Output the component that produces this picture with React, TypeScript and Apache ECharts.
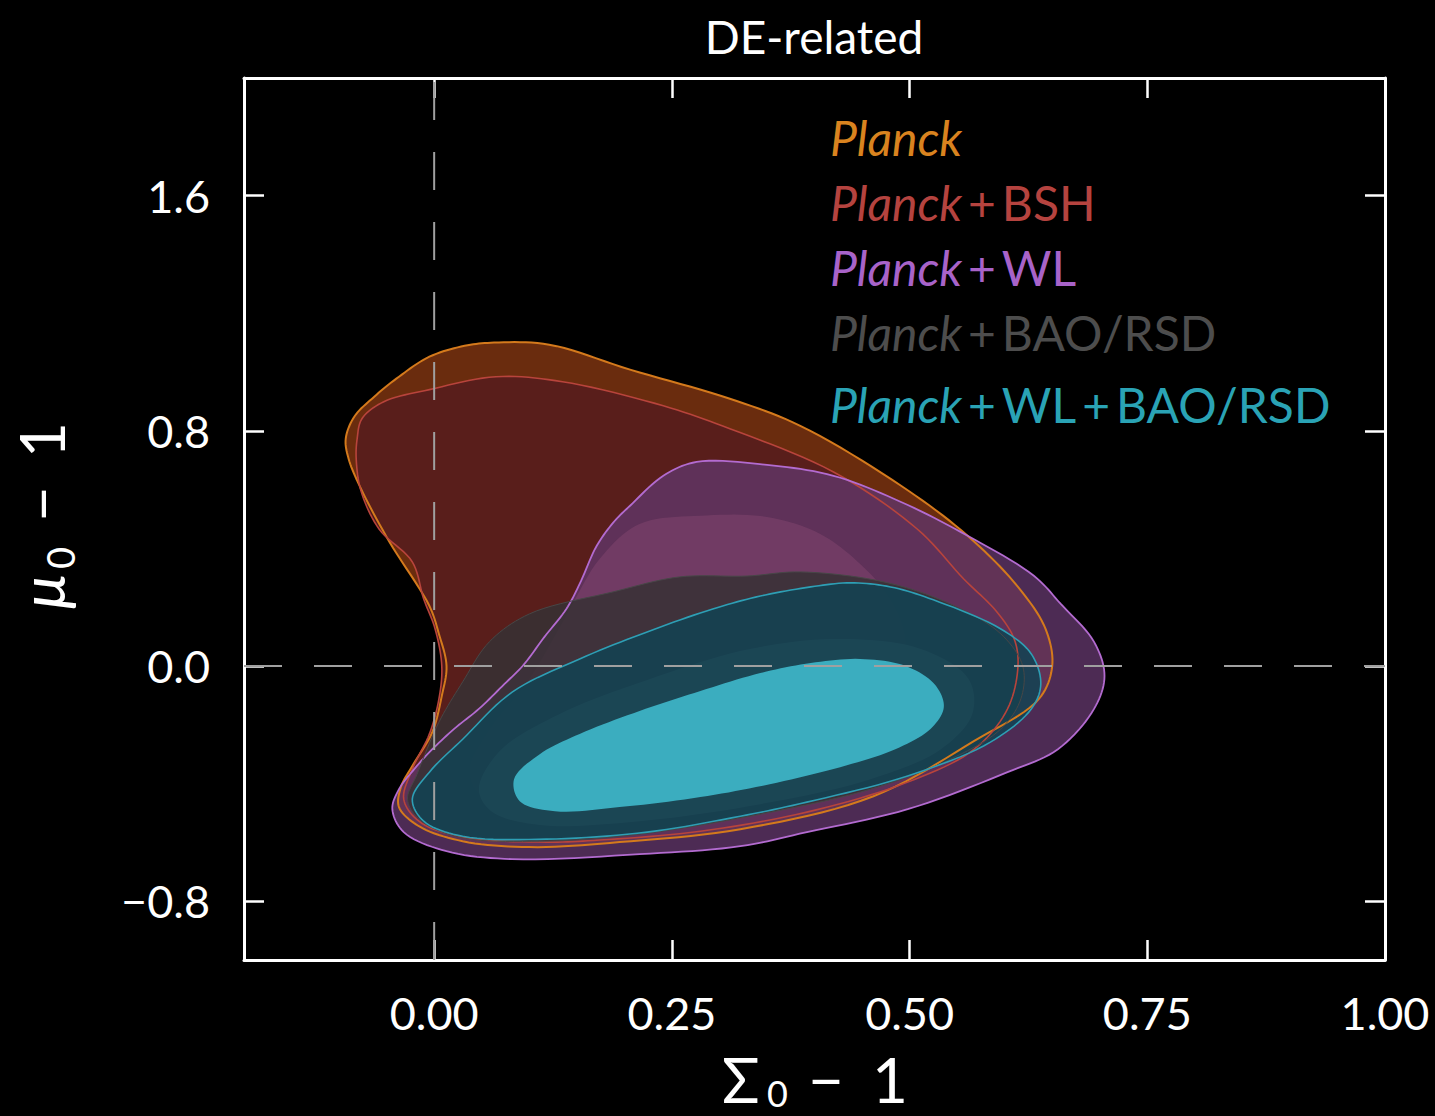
import React, { useEffect, useRef } from "react";
import * as echarts from "echarts";

type Pt = [number, number];

// Axis ticks
const xTicks = [0, 0.25, 0.5, 0.75, 1.0];
const yTicks = [-0.8, 0, 0.8, 1.6];

// Contour outlines in (Σ0−1, μ0−1)
const planckOuter: Pt[] = [
  [0.063, 1.1], [0.121, 1.093], [0.206, 1.008], [0.311, 0.909], [0.385, 0.817],
  [0.491, 0.613], [0.561, 0.443], [0.614, 0.269], [0.643, 0.126], [0.65, 0.0],
  [0.636, -0.112], [0.568, -0.255], [0.462, -0.443], [0.322, -0.555], [0.195, -0.599],
  [0.1, -0.616], [0.03, -0.596], [-0.016, -0.545], [-0.037, -0.48], [-0.035, -0.412],
  [-0.023, -0.34], [-0.002, -0.225], [0.008, -0.102], [0.013, 0.0], [0.005, 0.109],
  [-0.005, 0.204], [-0.047, 0.422], [-0.077, 0.603], [-0.09, 0.705], [-0.093, 0.773],
  [-0.084, 0.848], [-0.063, 0.916], [-0.037, 0.984], [-0.005, 1.052], [0.032, 1.089],
];

const bshOuter: Pt[] = [
  [0.065, 0.984], [0.135, 0.967], [0.241, 0.885], [0.311, 0.807], [0.42, 0.66],
  [0.508, 0.466], [0.557, 0.296], [0.591, 0.187], [0.61, 0.092], [0.614, 0.0],
  [0.603, -0.146], [0.568, -0.283], [0.498, -0.395], [0.392, -0.497], [0.28, -0.562],
  [0.174, -0.592], [0.118, -0.599], [0.03, -0.582], [-0.016, -0.528], [-0.032, -0.453],
  [-0.023, -0.351], [-0.005, -0.231], [0.005, -0.112], [0.008, 0.0], [0.001, 0.126],
  [-0.011, 0.228], [-0.023, 0.354], [-0.058, 0.466], [-0.077, 0.596], [-0.082, 0.705],
  [-0.081, 0.773], [-0.076, 0.841], [-0.053, 0.899], [-0.005, 0.94],
];

const wlOuter: Pt[] = [
  [0.276, 0.694], [0.35, 0.684], [0.42, 0.647], [0.491, 0.558], [0.561, 0.443],
  [0.631, 0.306], [0.659, 0.211], [0.694, 0.082], [0.705, -0.034], [0.694, -0.146],
  [0.656, -0.283], [0.603, -0.361], [0.498, -0.487], [0.392, -0.565], [0.322, -0.613],
  [0.216, -0.64], [0.082, -0.657], [0.013, -0.63], [-0.032, -0.565], [-0.044, -0.487],
  [-0.037, -0.419], [-0.021, -0.351], [-0.005, -0.293], [0.021, -0.214], [0.047, -0.146],
  [0.074, -0.061], [0.093, 0.0], [0.116, 0.099], [0.139, 0.194], [0.153, 0.279],
  [0.171, 0.409], [0.19, 0.494], [0.206, 0.545], [0.241, 0.647],
];

const wlInner: Pt[] = [
  [0.174, 0.364], [0.216, 0.483], [0.28, 0.511], [0.35, 0.507], [0.406, 0.449],
  [0.448, 0.347], [0.48, 0.228], [0.496, 0.092], [0.491, -0.044], [0.459, -0.163],
  [0.385, -0.283], [0.28, -0.385], [0.174, -0.453], [0.09, -0.47], [0.047, -0.436],
  [0.037, -0.351], [0.058, -0.214], [0.1, -0.044], [0.137, 0.16],
];

const baoOuter: Pt[] = [
  [0.258, 0.303], [0.329, 0.306], [0.385, 0.32], [0.473, 0.286], [0.543, 0.211],
  [0.596, 0.109], [0.619, 0.0], [0.617, -0.112], [0.596, -0.214], [0.543, -0.317],
  [0.459, -0.419], [0.343, -0.504], [0.216, -0.572], [0.111, -0.596], [0.026, -0.582],
  [-0.016, -0.521], [-0.028, -0.453], [-0.018, -0.368], [0.005, -0.191], [0.03, -0.054],
  [0.058, 0.082], [0.1, 0.177], [0.188, 0.252],
];

const baoInner: Pt[] = [
  [0.047, -0.419], [0.069, -0.289], [0.132, -0.163], [0.227, -0.044], [0.332, 0.058],
  [0.427, 0.092], [0.512, 0.058], [0.562, -0.044], [0.566, -0.163], [0.533, -0.283],
  [0.459, -0.385], [0.343, -0.47], [0.216, -0.528], [0.111, -0.541], [0.06, -0.494],
];

const comboOuter: Pt[] = [
  [-0.023, -0.453], [-0.005, -0.361], [0.03, -0.249], [0.082, -0.089], [0.153, 0.024],
  [0.224, 0.116], [0.293, 0.194], [0.343, 0.238], [0.396, 0.269], [0.438, 0.283],
  [0.48, 0.269], [0.525, 0.225], [0.596, 0.126], [0.628, 0.041], [0.638, -0.061],
  [0.628, -0.146], [0.585, -0.259], [0.498, -0.374], [0.392, -0.463], [0.322, -0.511],
  [0.224, -0.565], [0.118, -0.589], [0.03, -0.579], [-0.011, -0.528],
];

const comboInner: Pt[] = [
  [0.084, -0.385], [0.111, -0.3], [0.153, -0.231], [0.216, -0.153], [0.28, -0.085],
  [0.343, -0.024], [0.396, 0.01], [0.448, 0.024], [0.496, 0.0], [0.527, -0.065],
  [0.536, -0.14], [0.522, -0.214], [0.485, -0.283], [0.427, -0.344], [0.353, -0.402],
  [0.28, -0.446], [0.195, -0.48], [0.127, -0.494], [0.09, -0.46],
];

const legendLabels = ["+BSH", "+WL", "+BAO/RSD", "+WL+BAO/RSD"];

const FONT = "Lato, 'DejaVu Sans', sans-serif";

// Closed centripetal Catmull-Rom through the given screen points
function closedSpline(pts: number[][], seg = 10): number[][] {
  const n = pts.length;
  const out: number[][] = [];
  const knot = (a: number[], b: number[]) =>
    Math.max(Math.sqrt(Math.hypot(b[0] - a[0], b[1] - a[1])), 1e-4);
  const lerp = (a: number[], b: number[], ta: number, tb: number, t: number) => {
    const u = (t - ta) / (tb - ta);
    return [a[0] + (b[0] - a[0]) * u, a[1] + (b[1] - a[1]) * u];
  };
  for (let i = 0; i < n; i++) {
    const p0 = pts[(i - 1 + n) % n];
    const p1 = pts[i];
    const p2 = pts[(i + 1) % n];
    const p3 = pts[(i + 2) % n];
    const t0 = 0;
    const t1 = t0 + knot(p0, p1);
    const t2 = t1 + knot(p1, p2);
    const t3 = t2 + knot(p2, p3);
    for (let k = 0; k < seg; k++) {
      const t = t1 + ((t2 - t1) * k) / seg;
      const a1 = lerp(p0, p1, t0, t1, t);
      const a2 = lerp(p1, p2, t1, t2, t);
      const a3 = lerp(p2, p3, t2, t3, t);
      const b1 = lerp(a1, a2, t0, t2, t);
      const b2 = lerp(a2, a3, t1, t3, t);
      out.push(lerp(b1, b2, t1, t2, t));
    }
  }
  return out;
}

function contourSeries(name: string, pts: Pt[], z: number, style: any) {
  return {
    type: "custom",
    name,
    coordinateSystem: "cartesian2d",
    z,
    silent: true,
    clip: true,
    data: pts,
    encode: { x: 0, y: 1 },
    renderItem: (params: any, api: any) => {
      if (params.dataIndex !== 0) return null;
      const points = closedSpline(pts.map((p) => api.coord(p)));
      return { type: "polygon", shape: { points }, style };
    },
  };
}

const fillSeries = (name: string, pts: Pt[], fill: string, z: number) =>
  contourSeries(name, pts, z, { fill, stroke: null });

const edgeSeries = (name: string, pts: Pt[], stroke: string, width: number, z: number) =>
  contourSeries(name, pts, z, { fill: null, stroke, lineWidth: width });

const legendColors = ["#d9831f", "#b5433f", "#a863c9", "#4d4d4d", "#2aa3b5"];

function legendItem(idx: number, y: number) {
  const c = legendColors[idx];
  const suffix = idx === 0 ? "" : legendLabels[idx - 1].split("+").join("\u2009+\u2009").trimStart();
  return {
    type: "text",
    left: 830,
    top: y - 25,
    silent: true,
    style: {
      text: suffix ? `{i|Planck}{n|\u2009${suffix}}` : "{i|Planck}",
      rich: {
        i: { fontStyle: "italic", fontSize: 48, fontFamily: FONT, fill: c },
        n: { fontSize: 48, fontFamily: FONT, fill: c },
      },
      fill: c,
    },
  };
}

// One piece of an axis title (main symbol, subscript, operator)
function piece(text: string, x: number, y: number, size: number, extra: any = {}) {
  return {
    type: "text",
    x,
    y,
    silent: true,
    ...extra,
    style: {
      text,
      fill: "#ffffff",
      fontSize: size,
      fontFamily: FONT,
      fontStyle: extra.italic ? "italic" : "normal",
      align: "left",
      verticalAlign: "middle",
    },
  };
}

export default function App() {
  const ref = useRef<HTMLDivElement>(null);

  useEffect(() => {
    if (!ref.current) return;
    const chart = echarts.init(ref.current, null, { renderer: "svg" });

    const tickStyle = { color: "#ffffff", width: 2.5 };
    const lineStyle = { color: "#ffffff", width: 3 };
    const up = { rotation: Math.PI / 2 };

    const option: any = {
      animation: false,
      backgroundColor: "#000000",
      grid: { left: 244, right: 50, top: 78, bottom: 156, show: false },
      xAxis: [
        {
          type: "value",
          min: -0.2,
          max: 1.0,
          position: "bottom",
          axisLine: { show: true, onZero: false, lineStyle },
          axisTick: { show: true, inside: true, length: 20, lineStyle: tickStyle, customValues: xTicks },
          axisLabel: {
            customValues: xTicks,
            formatter: (v: number) => v.toFixed(2),
            color: "#ffffff",
            fontSize: 45,
            fontFamily: FONT,
            margin: 30,
          },
          splitLine: { show: false },
        },
        {
          type: "value",
          min: -0.2,
          max: 1.0,
          position: "top",
          axisLine: { show: true, onZero: false, lineStyle },
          axisTick: { show: true, inside: true, length: 20, lineStyle: tickStyle, customValues: xTicks },
          axisLabel: { show: false },
          splitLine: { show: false },
        },
      ],
      yAxis: [
        {
          type: "value",
          min: -1,
          max: 2,
          position: "left",
          axisLine: { show: true, onZero: false, lineStyle },
          axisTick: { show: true, inside: true, length: 20, lineStyle: tickStyle, customValues: yTicks },
          axisLabel: {
            customValues: yTicks,
            formatter: (v: number) => (v < 0 ? "\u2212" + Math.abs(v).toFixed(1) : v.toFixed(1)),
            color: "#ffffff",
            fontSize: 45,
            fontFamily: FONT,
            margin: 34,
          },
          splitLine: { show: false },
        },
        {
          type: "value",
          min: -1,
          max: 2,
          position: "right",
          axisLine: { show: true, onZero: false, lineStyle },
          axisTick: { show: true, inside: true, length: 20, lineStyle: tickStyle, customValues: yTicks },
          axisLabel: { show: false },
          splitLine: { show: false },
        },
      ],
      series: [
        fillSeries("Planck", planckOuter, "rgba(125,52,17,0.85)", 2),
        fillSeries("Planck+BSH", bshOuter, "rgba(87,29,30,0.88)", 3),
        fillSeries("Planck+WL", wlOuter, "rgba(96,54,105,0.8)", 4),
        fillSeries("Planck+WL inner", wlInner, "rgba(118,62,102,0.8)", 5),
        fillSeries("Planck+BAO/RSD", baoOuter, "rgba(54,49,52,0.85)", 6),
        fillSeries("Planck+BAO/RSD inner", baoInner, "rgba(92,98,100,0.9)", 7),
        fillSeries("Planck+WL+BAO/RSD", comboOuter, "rgba(17,66,83,0.86)", 8),
        fillSeries("Planck+WL+BAO/RSD inner", comboInner, "rgb(59,173,191)", 9),
        edgeSeries("Planck edge", planckOuter, "#d47a1c", 2, 10),
        edgeSeries("Planck+BSH edge", bshOuter, "#b8443c", 1.6, 11),
        edgeSeries("Planck+WL edge", wlOuter, "#b36bd0", 1.8, 12),
        edgeSeries("Planck+BAO/RSD edge", baoOuter, "#474747", 1, 13),
        edgeSeries("Planck+WL+BAO/RSD edge", comboOuter, "#2e9fb5", 1.6, 14),
        {
          type: "line",
          name: "zero-x",
          data: [[0, -1], [0, 2]],
          symbol: "none",
          silent: true,
          z: 15,
          lineStyle: { color: "#a0a0a0", width: 2, type: [38, 32] },
        },
        {
          type: "line",
          name: "zero-y",
          data: [[-0.2, 0], [1.0, 0]],
          symbol: "none",
          silent: true,
          z: 15,
          lineStyle: { color: "#a0a0a0", width: 2, type: [38, 32] },
        },
      ],
      graphic: [
        {
          type: "text",
          x: 814,
          y: 36,
          silent: true,
          style: {
            text: "DE-related",
            fill: "#ffffff",
            fontSize: 46,
            fontFamily: FONT,
            align: "center",
            verticalAlign: "middle",
          },
        },
        // x-axis title: Σ0 − 1
        piece("\u03A3", 722, 1079, 62),
        piece("0", 767, 1093, 36),
        piece("\u2212", 808, 1079, 62),
        piece("1", 872, 1079, 62),
        // y-axis title: μ0 − 1 (reads bottom to top)
        piece("\u03BC", 41, 609, 62, { ...up, italic: true }),
        piece("0", 60, 569, 38, up),
        piece("\u2212", 41, 522, 62, up),
        piece("1", 41, 458, 62, up),
        legendItem(0, 138),
        legendItem(1, 203),
        legendItem(2, 268),
        legendItem(3, 333),
        legendItem(4, 405),
      ],
    };

    chart.setOption(option);
    return () => chart.dispose();
  }, []);

  return (
    <div
      ref={ref}
      style={{ position: "fixed", left: 0, top: 0, width: 1435, height: 1116, background: "#000" }}
    />
  );
}
